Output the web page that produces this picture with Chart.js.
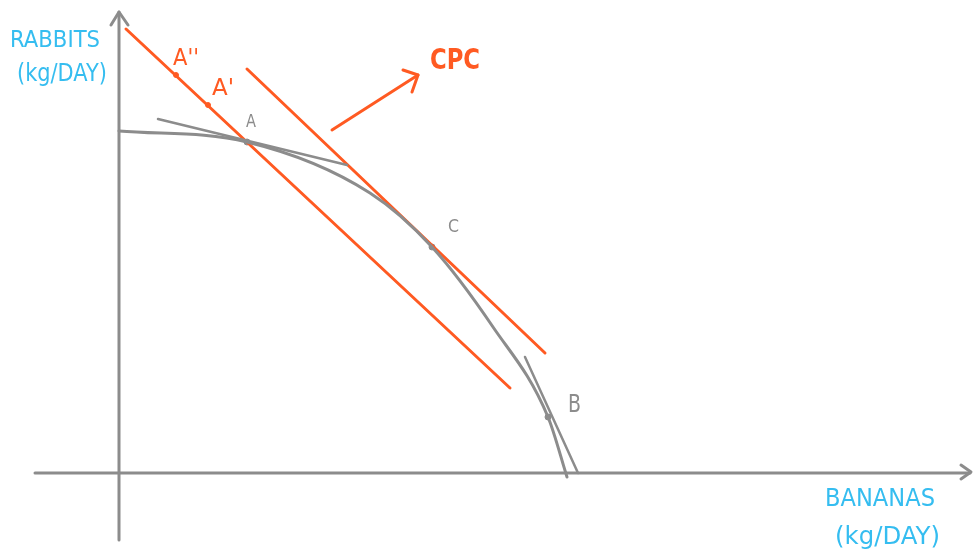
<!DOCTYPE html>
<html lang="en">
<head>
<meta charset="UTF-8">
<title>PPF and CPC</title>
<script src="https://cdn.jsdelivr.net/npm/chart.js"></script>
<style>
  html, body { margin: 0; padding: 0; background: #fff; }
  #wrap { width: 975px; height: 553px; position: relative; }
</style>
</head>
<body>
<div id="wrap"><canvas id="ppf"></canvas></div>
<script>
// production possibility frontier (bananas, rabbits in kg/day)
const ppfBananas = [0, 12.8, 25.1, 31.3, 37.4, 42.9, 44.8];
const ppfRabbits = [34.2, 33.1, 28.0, 22.6, 14.6, 5.6, -0.4];

// tangents to the frontier at A and at B
const tangentABananas = [3.9, 22.8];
const tangentARabbits = [35.4, 30.8];
const tangentBBananas = [40.6, 45.9];
const tangentBRabbits = [11.6, 0];

// consumption possibility lines (through A, then shifted out to C)
const cpcLowBananas = [0.7, 39.1];
const cpcLowRabbits = [44.4, 8.5];
const cpcHighBananas = [12.8, 42.6];
const cpcHighRabbits = [40.4, 12.0];

// shift arrow
const shiftBananas = [21.3, 29.9];
const shiftRabbits = [34.3, 39.8];
const shiftHeadBananas = [28.4, 29.9, 29.3];
const shiftHeadRabbits = [40.3, 39.8, 38.1];

// marked points
const onCpcNames = ["A''", "A'"];
const onCpcBananas = [5.7, 8.9];
const onCpcRabbits = [39.8, 36.8];
const ppfPointNames = ['A', 'C', 'B'];
const ppfPointBananas = [12.8, 31.3, 42.9];
const ppfPointRabbits = [33.1, 22.6, 5.6];

// axes
const yAxisBananas = [0, 0];
const yAxisRabbits = [-6.7, 46.1];
const yHeadBananas = [-0.8, 0, 0.9];
const yHeadRabbits = [44.8, 46.1, 44.8];
const xAxisBananas = [-8.4, 85.1];
const xAxisRabbits = [0, 0];
const xHeadBananas = [84.2, 85.2, 84.2];
const xHeadRabbits = [0.8, 0.1, -0.6];

const ORANGE = '#ff5a22';
const GREY = '#8c8c8c';
const CYAN = '#35bdf0';

function pts(xs, ys) {
  return xs.map((x, i) => ({ x: x, y: ys[i] }));
}

function line(xs, ys, color, width, extra) {
  return Object.assign({
    data: pts(xs, ys),
    showLine: true,
    borderColor: color,
    borderWidth: width,
    pointRadius: 0,
    borderCapStyle: 'round',
    borderJoinStyle: 'round',
    fill: false
  }, extra || {});
}

// text labels placed in data units, squeezed to a max width in px
const labels = [
  { text: 'RABBITS', x: -10.9, y: 43.2, color: CYAN, size: 23, w: 90 },
  { text: '(kg/DAY)', x: -10.2, y: 39.8, color: CYAN, size: 24, w: 90 },
  { text: 'BANANAS', x: 70.6, y: -2.7, color: CYAN, size: 24, w: 110 },
  { text: '(kg/DAY)', x: 71.6, y: -6.4, color: CYAN, size: 25, w: 105 },
  { text: 'CPC', x: 31.1, y: 41.1, color: ORANGE, size: 28, w: 50, bold: true },
  { text: onCpcNames[0], x: 5.4, y: 41.4, color: ORANGE, size: 23, w: 26 },
  { text: onCpcNames[1], x: 9.3, y: 38.4, color: ORANGE, size: 23, w: 22 },
  { text: ppfPointNames[0], x: 12.7, y: 35.0, color: GREY, size: 17, w: 10 },
  { text: ppfPointNames[1], x: 32.9, y: 24.5, color: GREY, size: 17, w: 11 },
  { text: ppfPointNames[2], x: 44.9, y: 6.8, color: GREY, size: 25, w: 13 }
];

const labelPlugin = {
  id: 'labelPlugin',
  afterDatasetsDraw(chart) {
    const ctx = chart.ctx;
    const xs = chart.scales.x, ys = chart.scales.y;
    ctx.save();
    ctx.textBaseline = 'middle';
    ctx.textAlign = 'left';
    labels.forEach(l => {
      ctx.font = (l.bold ? 'bold ' : '') + l.size + 'px "DejaVu Sans", sans-serif';
      ctx.fillStyle = l.color;
      ctx.fillText(l.text, xs.getPixelForValue(l.x), ys.getPixelForValue(l.y), l.w);
    });
    ctx.restore();
  }
};

new Chart(document.getElementById('ppf'), {
  type: 'scatter',
  data: {
    datasets: [
      line(yAxisBananas, yAxisRabbits, GREY, 3),
      line(yHeadBananas, yHeadRabbits, GREY, 3),
      line(xAxisBananas, xAxisRabbits, GREY, 3),
      line(xHeadBananas, xHeadRabbits, GREY, 3),
      line(ppfBananas, ppfRabbits, GREY, 3, { cubicInterpolationMode: 'monotone' }),
      line(tangentABananas, tangentARabbits, GREY, 2.5),
      line(tangentBBananas, tangentBRabbits, GREY, 2.5),
      line(cpcLowBananas, cpcLowRabbits, ORANGE, 3),
      line(cpcHighBananas, cpcHighRabbits, ORANGE, 3),
      line(shiftBananas, shiftRabbits, ORANGE, 3),
      line(shiftHeadBananas, shiftHeadRabbits, ORANGE, 3),
      {
        data: pts(onCpcBananas, onCpcRabbits),
        pointRadius: 2.5,
        pointBackgroundColor: ORANGE,
        pointBorderColor: ORANGE
      },
      {
        data: pts(ppfPointBananas, ppfPointRabbits),
        pointRadius: 3,
        pointBackgroundColor: GREY,
        pointBorderColor: GREY
      }
    ]
  },
  options: {
    responsive: true,
    maintainAspectRatio: false,
    animation: false,
    layout: { padding: 0, autoPadding: false },
    plugins: {
      legend: { display: false },
      tooltip: { enabled: false }
    },
    scales: {
      x: { type: 'linear', min: -11.9, max: 85.6, display: false },
      y: { type: 'linear', min: -8.0, max: 47.3, display: false }
    }
  },
  plugins: [labelPlugin]
});
</script>
</body>
</html>
